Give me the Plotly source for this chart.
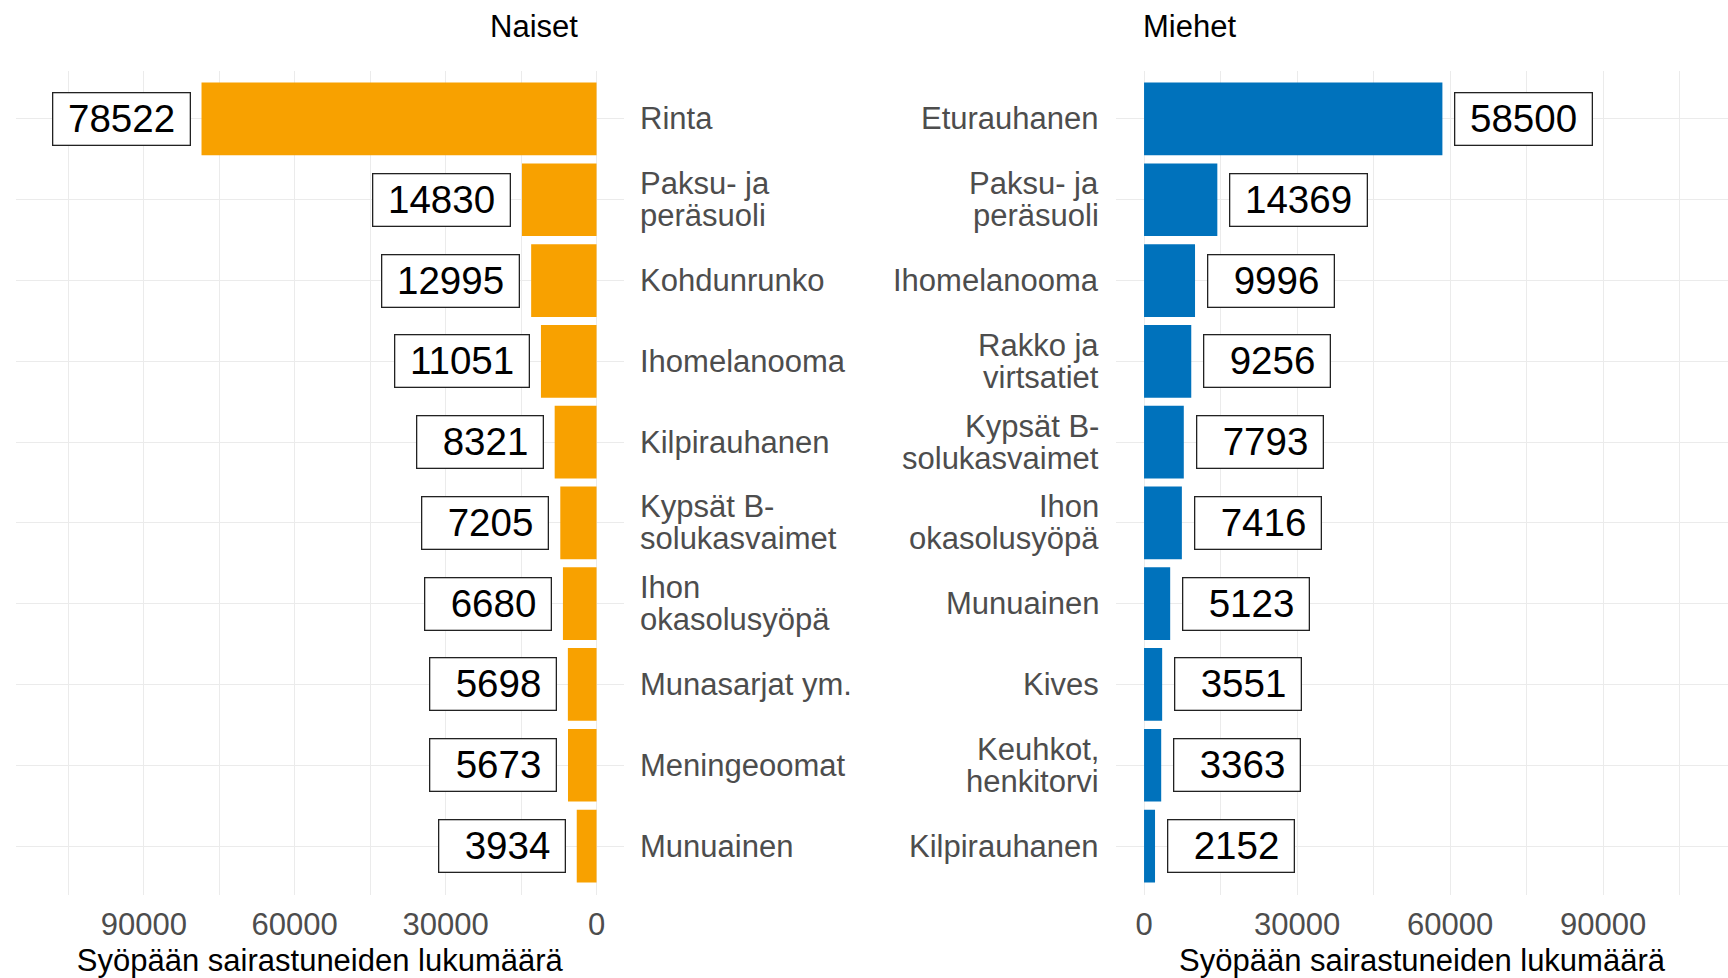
import plotly.graph_objects as go

# ---- data ----
naiset_cats = ["Rinta", "Paksu- ja\nperäsuoli", "Kohdunrunko", "Ihomelanooma",
               "Kilpirauhanen", "Kypsät B-\nsolukasvaimet", "Ihon\nokasolusyöpä",
               "Munasarjat ym.", "Meningeoomat", "Munuainen"]
naiset_vals = [78522, 14830, 12995, 11051, 8321, 7205, 6680, 5698, 5673, 3934]

miehet_cats = ["Eturauhanen", "Paksu- ja\nperäsuoli", "Ihomelanooma", "Rakko ja\nvirtsatiet",
               "Kypsät B-\nsolukasvaimet", "Ihon\nokasolusyöpä", "Munuainen", "Kives",
               "Keuhkot,\nhenkitorvi", "Kilpirauhanen"]
miehet_vals = [58500, 14369, 9996, 9256, 7793, 7416, 5123, 3551, 3363, 2152]

x_ticks = [0, 30000, 60000, 90000]
x_minor = [15000, 45000, 75000, 105000]
x_title = "Syöpään sairastuneiden lukumäärä"
panel_titles = ["Naiset", "Miehet"]

# ---- style ----
W, H = 1728, 978
FONT = "Liberation Sans, Arial, sans-serif"
ORANGE = "#F8A100"
BLUE = "#0072BC"
GRID = "#EBEBEB"
TXT_GREY = "#4D4D4D"
LINE_H = 32  # line spacing of wrapped category labels (px)


def px(x):
    return x / W


def py(y):
    return 1 - y / H


def label_text(v):
    s = f"{v:>5}".replace(" ", "\u00a0")
    return "\u00a0" + s + "\u00a0"


fig = go.Figure()

fig.add_trace(go.Bar(x=naiset_vals, y=naiset_cats, orientation="h",
                     marker=dict(color=ORANGE, line=dict(width=0)),
                     xaxis="x", yaxis="y", showlegend=False, hoverinfo="x"))
fig.add_trace(go.Bar(x=miehet_vals, y=miehet_cats, orientation="h",
                     marker=dict(color=BLUE, line=dict(width=0)),
                     xaxis="x2", yaxis="y2", showlegend=False, hoverinfo="x"))

annotations = []
# value labels
for c, v in zip(naiset_cats, naiset_vals):
    annotations.append(dict(x=v, y=c, xref="x", yref="y", text=label_text(v),
                            showarrow=False, xanchor="right", yanchor="middle", xshift=-11,
                            font=dict(family=FONT, size=38.5, color="black"),
                            bgcolor="white", bordercolor="#222222", borderwidth=1.3, borderpad=4))
for c, v in zip(miehet_cats, miehet_vals):
    annotations.append(dict(x=v, y=c, xref="x2", yref="y2", text=label_text(v),
                            showarrow=False, xanchor="left", yanchor="middle", xshift=12,
                            font=dict(family=FONT, size=38.5, color="black"),
                            bgcolor="white", bordercolor="#222222", borderwidth=1.3, borderpad=4))


# category labels (wrapped, tight line spacing)
def add_cat_labels(cats, xref, yref, xpos, anchor, shift):
    for c in cats:
        lines = c.split("\n")
        n = len(lines)
        for i, line in enumerate(lines):
            annotations.append(dict(x=xpos, y=c, xref=xref, yref=yref, text=line,
                                    showarrow=False, xanchor=anchor, yanchor="middle",
                                    xshift=shift, yshift=((n - 1) / 2 - i) * LINE_H,
                                    font=dict(family=FONT, size=31, color=TXT_GREY)))


add_cat_labels(naiset_cats, "x domain", "y", 1, "left", 14)
add_cat_labels(miehet_cats, "x2 domain", "y2", 0, "right", -15)

# panel titles
annotations.append(dict(x=px(534), y=py(26), xref="paper", yref="paper", text=panel_titles[0],
                        showarrow=False, xanchor="center", yanchor="middle",
                        font=dict(family=FONT, size=31, color="black")))
annotations.append(dict(x=px(1189), y=py(26), xref="paper", yref="paper", text=panel_titles[1],
                        showarrow=False, xanchor="center", yanchor="middle",
                        font=dict(family=FONT, size=31, color="black")))

ydom = [py(894.5), py(70.5)]
left_dom = [px(15.5), px(624.2)]
right_dom = [px(1116), 1.0]

xcommon = dict(tickvals=x_ticks, ticktext=[str(t) for t in x_ticks],
               showgrid=True, gridcolor=GRID, gridwidth=1.1, zeroline=False,
               showline=False, ticks="", ticklabelstandoff=8,
               tickfont=dict(family=FONT, size=31, color=TXT_GREY),
               minor=dict(tickvals=x_minor, showgrid=True, gridcolor=GRID, gridwidth=0.6),
               title=dict(text=x_title, font=dict(family=FONT, size=31, color="black"), standoff=10),
               automargin=False, fixedrange=True)

ycommon = dict(showgrid=True, gridcolor=GRID, gridwidth=1.1, zeroline=False, showline=False,
               ticks="", showticklabels=False, range=[9.6, -0.6],
               automargin=False, fixedrange=True)

fig.update_layout(
    width=W, height=H,
    margin=dict(l=0, r=0, t=0, b=0),
    paper_bgcolor="white", plot_bgcolor="white",
    bargap=0.1,
    font=dict(family=FONT),
    xaxis=dict(domain=left_dom, anchor="y", range=[115500, -5500], **xcommon),
    xaxis2=dict(domain=right_dom, anchor="y2", range=[-5500, 114500], **xcommon),
    yaxis=dict(domain=ydom, anchor="x", categoryorder="array",
               categoryarray=naiset_cats, **ycommon),
    yaxis2=dict(domain=ydom, anchor="x2", categoryorder="array",
                categoryarray=miehet_cats, **ycommon),
    annotations=annotations,
)

fig.write_html("out.html", config={"displayModeBar": False},
               post_script="document.body.style.margin='0';document.body.style.overflow='hidden';")
